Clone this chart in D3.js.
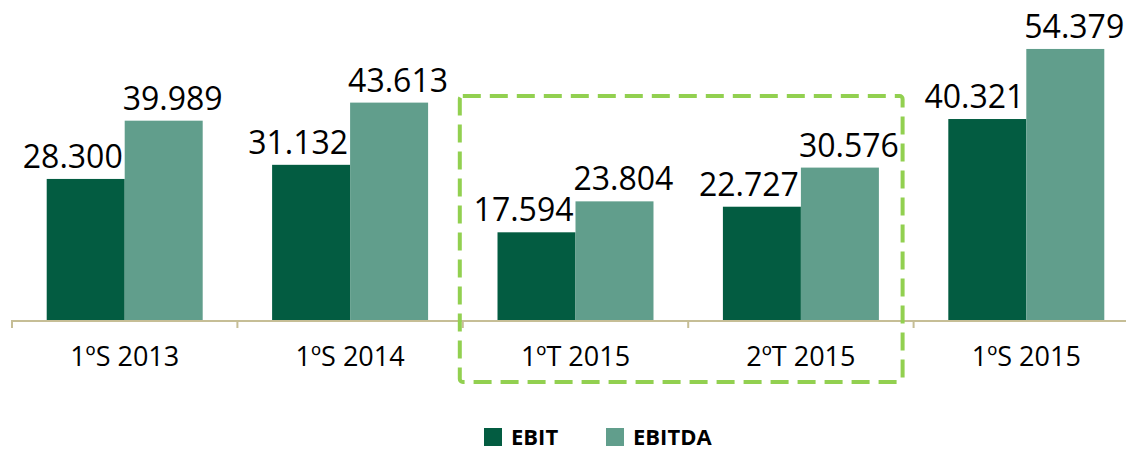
<!DOCTYPE html>
<html>
<head>
<meta charset="utf-8">
<script src="https://cdn.jsdelivr.net/npm/d3@7"></script>
<style>
  body { margin: 0; background: #fff; }
  svg { display: block; font-family: "Open Sans", sans-serif; }
</style>
</head>
<body>
<div id="chart"></div>
<script>
const categories = ["1ºS 2013", "1ºS 2014", "1ºT 2015", "2ºT 2015", "1ºS 2015"];
const seriesNames = ["EBIT", "EBITDA"];
const ebit = [28.300, 31.132, 17.594, 22.727, 40.321];
const ebitda = [39.989, 43.613, 23.804, 30.576, 54.379];
const colors = {EBIT: "#035c41", EBITDA: "#619e8c"};
const highlighted = ["1ºT 2015", "2ºT 2015"];

const W = 1126, H = 450;
const baseY = 320;
const fmt = v => v.toFixed(3);

const svg = d3.select("#chart").append("svg")
  .attr("width", W).attr("height", H);

const x = d3.scaleBand()
  .domain(categories)
  .range([12, 12 + 5 * 225.4])
  .padding(0);

const xSub = d3.scaleBand()
  .domain(seriesNames)
  .range([0, x.bandwidth()])
  .paddingInner(0)
  .paddingOuter(0.445);

const y = d3.scaleLinear()
  .domain([0, 64.2])
  .range([baseY, 0]);

const rows = categories.map((c, i) => ({cat: c, values: [
  {name: "EBIT", v: ebit[i]},
  {name: "EBITDA", v: ebitda[i]}
]}));

// axis line + boundary ticks
svg.append("line")
  .attr("x1", x.range()[0]).attr("x2", W)
  .attr("y1", baseY + 1).attr("y2", baseY + 1)
  .attr("stroke", "#c6be96").attr("stroke-width", 2);

svg.selectAll(".btick")
  .data(categories)
  .enter().append("line")
  .attr("class", "btick")
  .attr("x1", d => x(d)).attr("x2", d => x(d))
  .attr("y1", baseY).attr("y2", baseY + 8)
  .attr("stroke", "#c6be96").attr("stroke-width", 2);

// category labels
const xAxis = svg.append("g")
  .attr("transform", `translate(0,${baseY})`)
  .call(d3.axisBottom(x).tickSize(0).tickPadding(27));
xAxis.select(".domain").remove();
xAxis.selectAll("text")
  .attr("font-family", "Open Sans, sans-serif")
  .attr("font-size", 27)
  .attr("fill", "#000");

// bars
const groups = svg.selectAll(".grp")
  .data(rows)
  .enter().append("g")
  .attr("class", "grp")
  .attr("transform", d => `translate(${x(d.cat)},0)`);

groups.selectAll("rect")
  .data(d => d.values)
  .enter().append("rect")
  .attr("x", d => xSub(d.name))
  .attr("y", d => y(d.v))
  .attr("width", xSub.bandwidth())
  .attr("height", d => baseY - y(d.v))
  .attr("fill", d => colors[d.name]);

groups.selectAll(".lbl")
  .data(d => d.values)
  .enter().append("text")
  .attr("class", "lbl")
  .attr("x", d => d.name === "EBIT" ? xSub(d.name) + xSub.bandwidth() - 2 : xSub(d.name) - 2)
  .attr("y", d => y(d.v) - 11)
  .attr("text-anchor", d => d.name === "EBIT" ? "end" : "start")
  .attr("font-size", 32)
  .attr("fill", "#000")
  .text(d => fmt(d.v));

// dashed highlight box
const bx0 = x(highlighted[0]) - 3;
const bx1 = x(highlighted[1]) + x.bandwidth() - 11;
svg.append("rect")
  .attr("x", bx0).attr("y", 96)
  .attr("width", bx1 - bx0).attr("height", 286)
  .attr("rx", 3)
  .attr("fill", "none")
  .attr("stroke", "#92d050")
  .attr("stroke-width", 4)
  .attr("stroke-dasharray", "18,9");

// legend
const legend = svg.append("g").attr("transform", "translate(484,428)");
const legX = [0, 122];
seriesNames.forEach((s, i) => {
  const g = legend.append("g").attr("transform", `translate(${legX[i]},0)`);
  g.append("rect").attr("width", 18).attr("height", 18).attr("fill", colors[s]);
  g.append("text")
    .attr("x", 27).attr("y", 17)
    .attr("font-size", 22).attr("font-weight", "bold")
    .attr("fill", "#000")
    .text(s);
});
</script>
</body>
</html>
